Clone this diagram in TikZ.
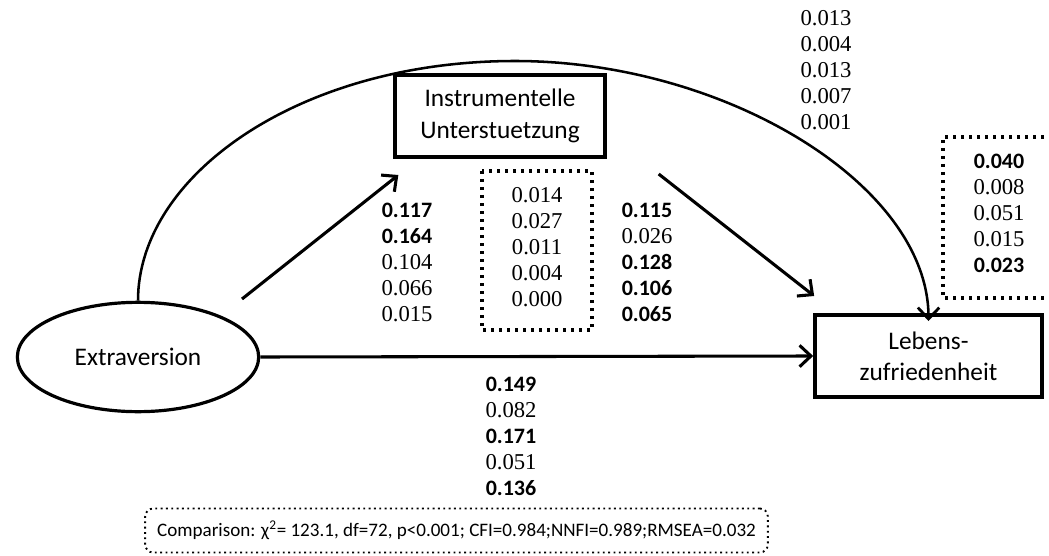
\documentclass[tikz,border=0pt]{standalone}
\usepackage{fontspec}
\setmainfont{Carlito}
\newfontfamily\numserif{Liberation Serif}
\usetikzlibrary{arrows.meta,shapes.geometric}

\tikzset{
  label box/.style={draw, line width=3pt, rectangle, align=center,
    font=\fontsize{19}{23.5}\selectfont, inner sep=0pt},
  construct/.style={draw, line width=2.4pt, ellipse, inner sep=0pt,
    font=\fontsize{19}{23.5}\selectfont},
  path arrow/.style={line width=2.3pt,
    -{Straight Barb[length=8.5pt,width=16pt,line width=2.3pt]}},
  curve arrow/.style={line width=1.9pt,
    -{Straight Barb[length=8.5pt,width=16pt,line width=2.1pt]}},
  stack/.style={align=center, inner sep=0pt,
    font=\numserif\fontsize{17}{19.5}\selectfont},
  dotted frame/.style={line width=2.6pt, dash pattern=on 2.6pt off 3.4pt},
  fine dots/.style={line width=1.4pt, dash pattern=on 1.4pt off 2.6pt}
}
\newcommand{\bnum}[1]{{\fontspec{Carlito}\bfseries\fontsize{16.5}{19.5}\selectfont #1}}

\begin{document}
\begin{tikzpicture}[x=0.75pt, y=-0.75pt]
  \useasboundingbox (0,0) rectangle (1049,556);

  % constructs
  \node[construct, minimum width=181pt, minimum height=82pt] (ext) at (138,357) {Extraversion};
  \node[label box, minimum width=157pt, minimum height=61.5pt] (ins) at (500,116)
    {Instrumentelle\\Unterstuetzung};
  \node[label box, minimum width=170pt, minimum height=61.5pt] (leb) at (928.5,356)
    {Lebens-\\zufriedenheit};

  % paths
  \draw[path arrow] ([shift={(104,-58)}]ext.center) -- ([shift={(5,16)}]ins.south west);
  \draw[path arrow] ([shift={(52,15)}]ins.south east) -- ([shift={(1,-17)}]leb.north west);
  \draw[path arrow] (ext.east) -- (leb.west);
  \coordinate (apex) at (515,61);
  \draw[curve arrow] (ext.north) .. controls (138,175) and (300,61) .. (apex)
    .. controls (725,61) and (929,185) .. ([yshift=-6]leb.north);

  % coefficient stacks
  \node[stack] (topR) at (826,70) {0.013\\0.004\\0.013\\0.007\\0.001};
  \node[stack] (leftC) at (407,262) {\bnum{0.117}\\\bnum{0.164}\\0.104\\0.066\\0.015};
  \node[stack] (midC) at (537,247) {0.014\\0.027\\0.011\\0.004\\0.000};
  \node[stack] (rightC) at (647,262) {\bnum{0.115}\\0.026\\\bnum{0.128}\\\bnum{0.106}\\\bnum{0.065}};
  \node[stack] (farR) at (999,213) {\bnum{0.040}\\0.008\\0.051\\0.015\\\bnum{0.023}};
  \node[stack] (botC) at (511,436) {\bnum{0.149}\\0.082\\\bnum{0.171}\\0.051\\\bnum{0.136}};

  % dotted frames
  \draw[dotted frame] (482,171) rectangle (592,330);
  \draw[dotted frame] (1052,137) -- (943,137) -- (943,298) -- (1052,298);

  % fit summary
  \node[draw, fine dots, rounded corners=6pt, minimum width=467pt, minimum height=33pt,
    inner sep=0pt, font=\fontsize{14.3}{17}\selectfont] (fit) at (456.5,530.5)
    {Comparison: χ\textsuperscript{2}= 123.1, df=72, p<0.001; CFI=0.984;NNFI=0.989;RMSEA=0.032};
\end{tikzpicture}
\end{document}
